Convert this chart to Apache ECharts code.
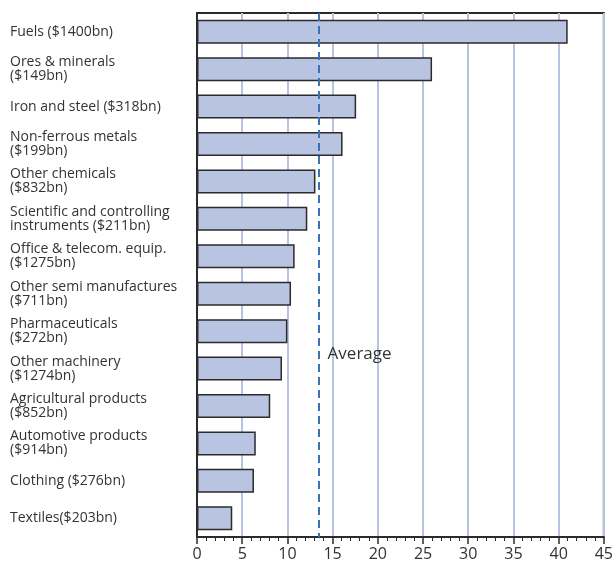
<!DOCTYPE html>
<html>
<head>
<meta charset="utf-8">
<script src="https://cdn.jsdelivr.net/npm/echarts@6/dist/echarts.min.js"></script>
<style>html,body{margin:0;padding:0;background:#fff}#c{width:616px;height:570px}</style>
</head>
<body>
<div id="c"></div>
<script>
const categories = [
  "Fuels ($1400bn)",
  "Ores & minerals\n($149bn)",
  "Iron and steel ($318bn)",
  "Non-ferrous metals\n($199bn)",
  "Other chemicals\n($832bn)",
  "Scientific and controlling\ninstruments ($211bn)",
  "Office & telecom. equip.\n($1275bn)",
  "Other semi manufactures\n($711bn)",
  "Pharmaceuticals\n($272bn)",
  "Other machinery\n($1274bn)",
  "Agricultural products\n($852bn)",
  "Automotive products\n($914bn)",
  "Clothing ($276bn)",
  "Textiles($203bn)"
];
const values = [41, 26, 17.6, 16.1, 13.1, 12.2, 10.8, 10.4, 10.0, 9.4, 8.1, 6.5, 6.3, 3.9];
const averageValue = 13.45;
const averageLabel = "Average";
const xTicks = { min: 0, max: 45, interval: 5 };

const chart = echarts.init(document.getElementById('c'));
const font = "'Open Sans', sans-serif";
chart.setOption({
  animation: false,
  grid: { left: 197, right: 12, top: 13, bottom: 33, show: true, borderColor: '#2b2b2b', borderWidth: 2, backgroundColor: 'transparent' },
  xAxis: {
    type: 'value', min: xTicks.min, max: xTicks.max, interval: xTicks.interval,
    axisLine: { show: true, lineStyle: { color: '#2b2b2b', width: 2 } },
    axisTick: { show: true, length: 7, lineStyle: { color: '#2b2b2b', width: 1.5 } },
    minorTick: { show: true, splitNumber: 5, length: 4, lineStyle: { color: '#2b2b2b', width: 1 } },
    splitLine: { show: true, lineStyle: { color: '#b7c3e3', width: 2 } },
    axisLabel: { color: '#333', fontSize: 16, fontFamily: font, margin: 9 }
  },
  yAxis: {
    type: 'category', data: categories, inverse: true,
    axisLine: { show: true, lineStyle: { color: '#2b2b2b', width: 2 } },
    axisTick: { show: false },
    splitLine: { show: false },
    axisLabel: { color: '#333', fontSize: 14, fontFamily: font, align: 'left', margin: 187, lineHeight: 14 }
  },
  series: [{
    type: 'bar', data: values, barWidth: 24,
    itemStyle: { color: '#b9c4e2', borderColor: '#2b2b2b', borderWidth: 1.5 },
    markLine: {
      silent: true, symbol: 'none',
      lineStyle: { color: '#3a72b9', width: 2, type: [8, 5] },
      label: { show: false },
      data: [{ xAxis: averageValue }]
    }
  }]
});
const p = chart.convertToPixel({ xAxisIndex: 0, yAxisIndex: 0 }, [averageValue, 8]);
const p2 = chart.convertToPixel({ xAxisIndex: 0, yAxisIndex: 0 }, [averageValue, 9]);
chart.setOption({
  graphic: [{
    type: 'text', left: p[0] + 9, top: (p[1] + p2[1]) / 2 - 4,
    style: { text: averageLabel, fill: '#333', fontSize: 17, fontFamily: font }
  }]
});
</script>
</body>
</html>
